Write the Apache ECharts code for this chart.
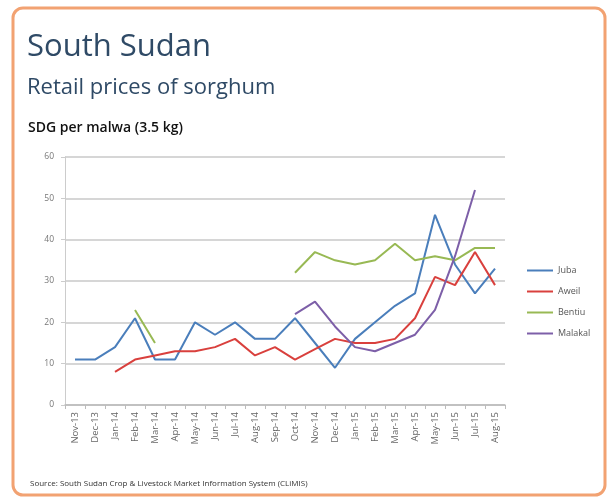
<!DOCTYPE html>
<html><head><meta charset="utf-8">
<script src="https://cdn.jsdelivr.net/npm/echarts@6/dist/echarts.min.js"></script>
<style>html,body{margin:0;padding:0;background:#fff}#c{width:614px;height:502px}</style>
</head><body><div id="c"></div>
<script>
var months = ['Nov-13','Dec-13','Jan-14','Feb-14','Mar-14','Apr-14','May-14','Jun-14','Jul-14','Aug-14','Sep-14','Oct-14','Nov-14','Dec-14','Jan-15','Feb-15','Mar-15','Apr-15','May-15','Jun-15','Jul-15','Aug-15'];
var juba    = [11,11,14,21,11,11,20,17,20,16,16,21,15,9,16,20,24,27,46,34,27,33];
var aweil   = [null,null,8,11,12,13,13,14,16,12,14,11,13.5,16,15,15,16,21,31,29,37,29];
var bentiu  = [null,null,null,23,15,null,null,null,null,null,null,32,37,35,34,35,39,35,36,35,38,38];
var malakal = [null,null,null,null,null,null,null,null,null,null,null,22,25,19,14,13,15,17,23,36,52,null];
var yTicks = [0,10,20,30,40,50,60];

var chart = echarts.init(document.getElementById('c'), null, {renderer:'canvas'});
function mk(name, data, color){
  return {name:name, type:'line', data:data, symbol:'none', connectNulls:false,
    lineStyle:{color:color, width:2}, itemStyle:{color:color}};
}
chart.setOption({
  animation:false,
  graphic:[
    {type:'rect', shape:{x:13,y:8,width:592,height:487,r:10}, style:{fill:'#fff',stroke:'#f2a272',lineWidth:3}, z:-10},
    {type:'text', left:27, top:32, style:{text:'South Sudan', font:'31px "Open Sans"', fill:'#2f4a66'}},
    {type:'text', left:27, top:77, style:{text:'Retail prices of sorghum', font:'22px "Open Sans"', fill:'#2f4a66'}},
    {type:'text', left:28, top:121, style:{text:'SDG per malwa (3.5 kg)', font:'600 14px "Open Sans"', fill:'#111'}},
    {type:'text', left:30, top:480, style:{text:'Source: South Sudan Crop & Livestock Market Information System (CLiMIS)', font:'8px "Open Sans"', fill:'#333'}}
  ],
  legend:{orient:'vertical', left:522, top:261, itemWidth:26, itemHeight:2, itemGap:12,
    icon:'rect', textStyle:{fontSize:9, color:'#555', fontFamily:'Open Sans'},
    data:['Juba','Aweil','Bentiu','Malakal']},
  grid:{left:65, right:109, top:157, bottom:97},
  xAxis:{type:'category', data:months, boundaryGap:true,
    axisLine:{lineStyle:{color:'#bbb', width:1.5}},
    axisTick:{show:true, interval:0, length:4, lineStyle:{color:'#bbb'}},
    axisLabel:{interval:0, rotate:90, fontSize:9.5, color:'#666', fontFamily:'Open Sans', margin:7}},
  yAxis:{type:'value', min:0, max:60, interval:10,
    axisLine:{show:true, lineStyle:{color:'#ccc'}},
    axisTick:{show:true, length:4, lineStyle:{color:'#ccc'}},
    splitLine:{lineStyle:{color:'#c8c8c8', width:1.5}},
    axisLabel:{fontSize:8.5, color:'#777', fontFamily:'Open Sans', margin:11,
      formatter:function(v){return yTicks.indexOf(v)>=0 ? String(v) : '';}}},
  series:[
    mk('Juba', juba, '#4a7ebb'),
    mk('Aweil', aweil, '#d9403d'),
    mk('Bentiu', bentiu, '#98b954'),
    mk('Malakal', malakal, '#7d5fa8')
  ]
});
</script></body></html>
